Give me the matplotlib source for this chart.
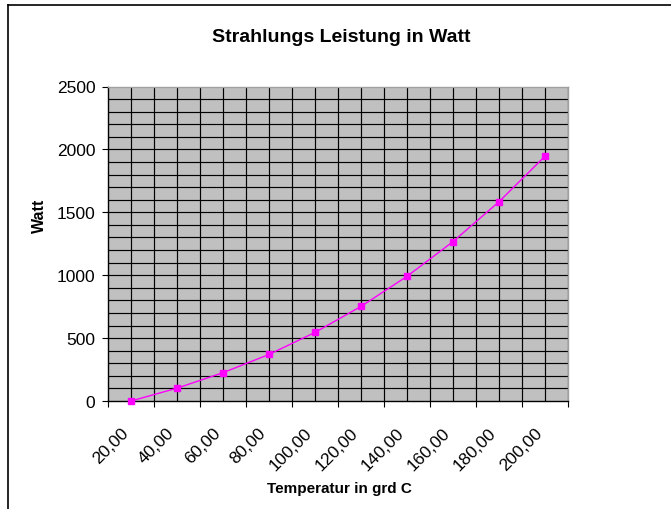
import numpy as np
import matplotlib
matplotlib.use("Agg")
import matplotlib.pyplot as plt
from matplotlib.lines import Line2D
from matplotlib.ticker import MultipleLocator

plt.rcParams['font.family'] = ['Liberation Sans', 'DejaVu Sans']

# Temperature categories (°C) and radiated power (W)
temperatures = [20, 40, 60, 80, 100, 120, 140, 160, 180, 200]
watt = [0, 102, 225, 370, 545, 752, 991, 1267, 1584, 1946]
temp_labels = [f"{t:.2f}".replace(".", ",") for t in temperatures]

W, H = 671, 510
fig = plt.figure(figsize=(W / 100, H / 100), dpi=100)
fig.patch.set_facecolor("white")

# frame of the embedded chart object (top and left edges)
fig.add_artist(Line2D([8 / W, 8 / W], [0, 1 - 5.5 / H], color="black", lw=1.2))
fig.add_artist(Line2D([8 / W, 1], [1 - 5.5 / H, 1 - 5.5 / H], color="black", lw=1.2))

left, right, top, bottom = 108, 568, 87.5, 402
ax = fig.add_axes([left / W, 1 - bottom / H, (right - left) / W, (bottom - top) / H])
ax.set_facecolor("#c0c0c0")

x = np.arange(len(temperatures))
ax.set_xlim(-0.5, len(temperatures) - 0.5)
ax.set_ylim(0, 2500)

# gridlines: every 100 W horizontally, every half category vertically
for yv in np.arange(100, 2500, 100):
    ax.axhline(yv, color="black", lw=0.85, zorder=1)
for xv in np.arange(0, len(temperatures) - 0.5 + 0.01, 0.5):
    ax.axvline(xv, color="black", lw=0.85, zorder=1)

ax.plot(x, watt, color="#ff00ff", lw=1.0, marker="s", markersize=4.2,
        markerfacecolor="#ff00ff", markeredgecolor="#ff00ff", zorder=3, clip_on=False)

# axes styling
ax.spines["left"].set_color("black")
ax.spines["bottom"].set_color("black")
ax.spines["top"].set_color("#a0a0a0")
ax.spines["right"].set_color("#a0a0a0")
for s in ax.spines.values():
    s.set_linewidth(1.0)

ax.yaxis.set_major_locator(MultipleLocator(500))
ax.tick_params(axis="y", which="major", direction="out", length=4.5, width=0.8,
               pad=4.5, labelsize=12.5, colors="black")

ax.set_xticks(np.arange(-0.5, len(temperatures)), [""] * (len(temperatures) + 1))
ax.set_xticks(x, temp_labels, minor=True)
ax.tick_params(axis="x", which="major", direction="out", length=4.5, width=0.8)
ax.tick_params(axis="x", which="minor", length=0, pad=17, labelsize=12.5)
for lbl in ax.get_xticklabels(minor=True):
    lbl.set_rotation(45)
    lbl.set_ha("right")
    lbl.set_va("top")

fig.text(341 / W, 1 - 38 / H, "Strahlungs Leistung in Watt", ha="center", va="center",
         fontsize=14, fontweight="bold")
fig.text(339 / W, 1 - 489 / H, "Temperatur in grd C", ha="center", va="center",
         fontsize=11, fontweight="bold")
fig.text(39 / W, 1 - 216 / H, "Watt", ha="center", va="center", rotation=90,
         fontsize=11.5, fontweight="bold")

fig.savefig("out.png", dpi=100)
